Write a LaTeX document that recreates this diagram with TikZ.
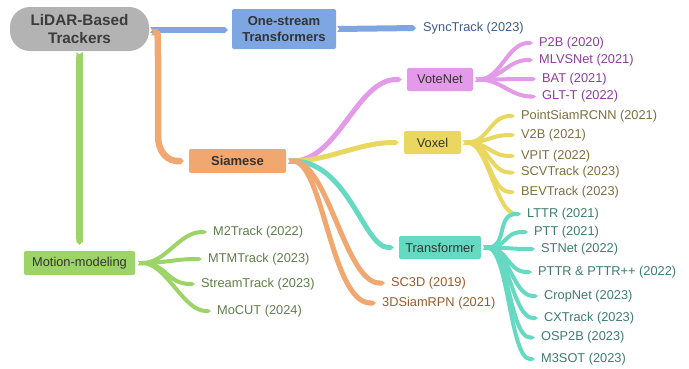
\documentclass[tikz,border=0pt]{standalone}
\usepackage{fontspec}
\setmainfont{Liberation Sans}
\usetikzlibrary{arrows.meta}
\definecolor{rootfill}{HTML}{B3B3B3}
\definecolor{roottext}{HTML}{3B3B3B}
\definecolor{boxtext}{HTML}{333333}
\definecolor{blueC}{HTML}{7EA6E3}
\definecolor{blueT}{HTML}{3F5C8C}
\definecolor{orangeC}{HTML}{F0A770}
\definecolor{orangeT}{HTML}{9A5A2E}
\definecolor{greenC}{HTML}{9CD467}
\definecolor{greenT}{HTML}{5E7D48}
\definecolor{pinkC}{HTML}{E39AE8}
\definecolor{pinkT}{HTML}{8C3C9C}
\definecolor{yellowC}{HTML}{EAD760}
\definecolor{yellowT}{HTML}{7C6F3E}
\definecolor{tealC}{HTML}{66D9C3}
\definecolor{tealT}{HTML}{3D7B71}
\tikzset{
  catbox/.style={draw=none, rounded corners=2pt, inner sep=0pt, align=center, text=boxtext},
  boldtxt/.style={font=\fontsize{13}{16}\selectfont\bfseries},
  plaintxt/.style={font=\fontsize{12.8}{15}\selectfont},
  leaf/.style={anchor=west, inner sep=0pt, font=\fontsize{12.8}{15}\selectfont},
  limb/.style={line width=#1, {Triangle Cap[reversed,length=2pt]}-{Triangle Cap[length=3pt]}},
}
\begin{document}
\begin{tikzpicture}[x=1pt,y=-1pt]
\useasboundingbox (0,0) rectangle (689,368);

% category boxes
\node[catbox, fill=rootfill, rounded corners=20pt, minimum width=139pt, minimum height=44pt,
      font=\fontsize{15.3}{18}\selectfont\bfseries, text=roottext] (root) at (79.5,29) {LiDAR-Based\\Trackers};
\node[catbox, fill=blueC, minimum width=104pt, minimum height=40pt, boldtxt] (one) at (284,29) {One-stream\\Transformers};
\node[catbox, fill=orangeC, minimum width=97pt, minimum height=24pt, boldtxt] (siam) at (237.5,161) {Siamese};
\node[catbox, fill=greenC, minimum width=111pt, minimum height=24pt, plaintxt] (motion) at (79.5,263) {Motion-modeling};
\node[catbox, fill=pinkC, minimum width=66pt, minimum height=23pt, plaintxt] (vote) at (440,79.5) {VoteNet};
\node[catbox, fill=yellowC, minimum width=57pt, minimum height=23pt, plaintxt] (voxel) at (432.5,142.5) {Voxel};
\node[catbox, fill=tealC, minimum width=82pt, minimum height=23pt, plaintxt] (trans) at (440,247.5) {Transformer};

% tracker names
\node[leaf, text=blueT] (sync) at (423,28) {SyncTrack (2023)};

\node[leaf, text=pinkT] (p2b) at (539,43) {P2B (2020)};
\node[leaf, text=pinkT] (mlvs) at (539,60) {MLVSNet (2021)};
\node[leaf, text=pinkT] (bat) at (542,79) {BAT (2021)};
\node[leaf, text=pinkT] (glt) at (542,96.5) {GLT-T (2022)};

\node[leaf, text=yellowT] (psr) at (521,116) {PointSiamRCNN (2021)};
\node[leaf, text=yellowT] (v2b) at (521,135) {V2B (2021)};
\node[leaf, text=yellowT] (vpit) at (521,156) {VPIT (2022)};
\node[leaf, text=yellowT] (scv) at (521,172.5) {SCVTrack (2023)};
\node[leaf, text=yellowT] (bev) at (521,192) {BEVTrack (2023)};

\node[leaf, text=tealT] (lttr) at (527,214) {LTTR (2021)};
\node[leaf, text=tealT] (ptt) at (534,232) {PTT (2021)};
\node[leaf, text=tealT] (stnet) at (541,249) {STNet (2022)};
\node[leaf, text=tealT] (pttr) at (538,272) {PTTR \& PTTR++ (2022)};
\node[leaf, text=tealT] (crop) at (544,296) {CropNet (2023)};
\node[leaf, text=tealT] (cx) at (544,318) {CXTrack (2023)};
\node[leaf, text=tealT] (osp) at (541,337.5) {OSP2B (2023)};
\node[leaf, text=tealT] (m3) at (541,359) {M3SOT (2023)};

\node[leaf, text=orangeT] (sc3d) at (391,283) {SC3D (2019)};
\node[leaf, text=orangeT] (rpn) at (382,303) {3DSiamRPN (2021)};

\node[leaf, text=greenT] (m2) at (213,232) {M2Track (2022)};
\node[leaf, text=greenT] (mtm) at (208,259) {MTMTrack (2023)};
\node[leaf, text=greenT] (stream) at (201,284) {StreamTrack (2023)};
\node[leaf, text=greenT] (mocut) at (217,311) {MoCUT (2024)};

% trunks from the root
\draw[limb=6pt, blueC] ([xshift=1pt,yshift=-1pt]root.east) -- ([xshift=-4pt,yshift=-1pt]one.west);
\draw[limb=6pt, blueC] ([xshift=1pt]one.east) -- ([xshift=-7pt]sync.west);
\draw[limb=6.5pt, orangeC] ([xshift=2pt,yshift=-3pt]root.east)
  .. controls (158,32) and (158,40) .. (158,60) -- (158,135)
  .. controls (158,153) and (168,161) .. ([xshift=-5pt]siam.west);
\draw[limb=6.5pt, greenC] ([yshift=-1pt]root.south) -- ([yshift=6pt]motion.north);

% motion-modeling branches
\foreach \t in {m2,mtm,stream,mocut}
  \draw[limb=4pt, greenC] ([xshift=3pt]motion.east) to[out=0,in=180,distance=28pt] ([xshift=-6pt]\t.west);

% siamese branches
\draw[limb=5pt, pinkC] ([xshift=2pt]siam.east) to[out=0,in=180,out distance=50pt,in distance=45pt] ([xshift=-5pt]vote.west);
\draw[limb=5pt, yellowC] ([xshift=2pt]siam.east) to[out=0,in=180,distance=40pt] ([xshift=-5pt]voxel.west);
\draw[limb=5pt, tealC] ([xshift=2pt]siam.east) to[out=0,in=180,out distance=60pt,in distance=30pt] ([xshift=-5pt]trans.west);
\draw[limb=5pt, orangeC] ([xshift=2pt]siam.east) to[out=0,in=180,distance=40pt] ([xshift=-6pt]sc3d.west);
\draw[limb=5pt, orangeC] ([xshift=2pt]siam.east) to[out=0,in=180,out distance=35pt,in distance=45pt] ([xshift=-6pt]rpn.west);

% votenet branches
\foreach \t in {p2b,mlvs,bat,glt}
  \draw[limb=4pt, pinkC] ([xshift=2pt]vote.east) to[out=0,in=180,distance=25pt] ([xshift=-6pt]\t.west);

% voxel branches
\foreach \t in {psr,v2b,vpit,scv,bev,lttr}
  \draw[limb=4pt, yellowC] ([xshift=2pt]voxel.east) to[out=0,in=180,distance=25pt] ([xshift=-6pt]\t.west);

% transformer branches
\foreach \t in {lttr,ptt,stnet,pttr,crop,cx,osp,m3}
  \draw[limb=4pt, tealC] ([xshift=2pt]trans.east) to[out=0,in=180,distance=25pt] ([xshift=-6pt]\t.west);
\end{tikzpicture}
\end{document}
